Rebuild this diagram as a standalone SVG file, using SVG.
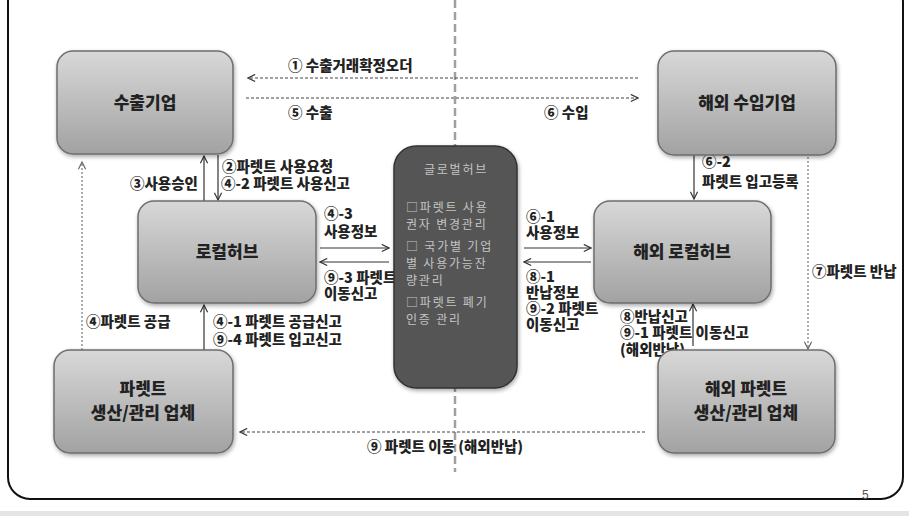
<svg xmlns="http://www.w3.org/2000/svg" width="909" height="516" viewBox="0 0 909 516">
<defs>
<linearGradient id="ng" x1="0" y1="0" x2="0" y2="1">
<stop offset="0" stop-color="#d8d8d8"/>
<stop offset="1" stop-color="#a2a2a2"/>
</linearGradient>
<filter id="sh" x="-10%" y="-10%" width="125%" height="130%">
<feGaussianBlur in="SourceAlpha" stdDeviation="2"/>
<feOffset dx="1" dy="2" result="b"/>
<feComponentTransfer><feFuncA type="linear" slope="0.35"/></feComponentTransfer>
<feMerge><feMergeNode/><feMergeNode in="SourceGraphic"/></feMerge>
</filter>
<marker id="ar" viewBox="0 0 10 10" refX="9" refY="5" markerWidth="9" markerHeight="9" markerUnits="userSpaceOnUse" orient="auto">
<path d="M1,1 L9,5 L1,9" fill="none" stroke="#333" stroke-width="1.3"/>
</marker>
<marker id="ard" viewBox="0 0 10 10" refX="9" refY="5" markerWidth="9" markerHeight="9" markerUnits="userSpaceOnUse" orient="auto">
<path d="M1,1 L9,5 L1,9" fill="none" stroke="#666" stroke-width="1.3"/>
</marker>
</defs>
<style>
.node{fill:url(#ng);stroke:#6e6e6e;stroke-width:1.5;filter:url(#sh)}
.nt{font-family:"Noto Sans CJK KR","Noto Sans",sans-serif;font-weight:900;font-size:17px;fill:#222;text-anchor:middle}
.lb{font-family:"Noto Sans CJK KR","Noto Sans",sans-serif;font-weight:900;font-size:14.5px;fill:#222}
.gt{font-family:"Noto Sans CJK KR","Noto Sans",sans-serif;font-size:12px;fill:#c4c4c4;letter-spacing:1.8px}
.sol{stroke:#333;stroke-width:1.2;fill:none;marker-end:url(#ar)}
.dsh{stroke:#444;stroke-width:1.2;fill:none;stroke-dasharray:3 2}
.dot{stroke:#777;stroke-width:1.2;fill:none;stroke-dasharray:2 2}
</style>
<rect x="0" y="0" width="909" height="516" fill="#ffffff"/>
<rect x="0" y="511" width="909" height="5" fill="#e4e4e4"/>
<rect x="8" y="-20" width="895" height="519" rx="22" fill="none" stroke="#111" stroke-width="2"/>
<line x1="455" y1="0" x2="455" y2="472" stroke="#a0a0a0" stroke-width="2.5" stroke-dasharray="8 4"/>

<g id="connectors">
<line class="dsh" x1="638" y1="78" x2="248" y2="78" marker-end="url(#ar)"/>
<line class="dsh" x1="246" y1="98" x2="638" y2="98" marker-end="url(#ar)"/>
<line class="sol" x1="204" y1="201" x2="204" y2="156"/>
<line class="sol" x1="218" y1="155" x2="218" y2="200"/>
<line class="dot" x1="82" y1="350" x2="82" y2="162" marker-end="url(#ard)"/>
<line class="sol" x1="204" y1="350" x2="204" y2="305"/>
<line class="sol" x1="320" y1="248" x2="389" y2="248"/>
<line class="sol" x1="389" y1="262" x2="320" y2="262"/>
<line class="sol" x1="524" y1="248" x2="591" y2="248"/>
<line class="sol" x1="591" y1="262" x2="524" y2="262"/>
<line class="sol" x1="694" y1="155" x2="694" y2="199"/>
<line class="dot" x1="808" y1="157" x2="808" y2="349" marker-end="url(#ard)"/>
<line class="sol" x1="693" y1="346" x2="693" y2="304"/>
<line class="dsh" x1="645" y1="432" x2="240" y2="432" marker-end="url(#ar)"/>
</g>

<g id="labels">
<text class="lb" x="288" y="71">① 수출거래확정오더</text>
<text class="lb" x="288" y="118">⑤ 수출</text>
<text class="lb" x="544" y="118">⑥ 수입</text>
<text class="lb" x="222" y="172">②파렛트 사용요청</text>
<text class="lb" x="221" y="189">④-2 파렛트 사용신고</text>
<text class="lb" x="130" y="189">③사용승인</text>
<text class="lb" x="324" y="219">④-3</text>
<text class="lb" x="324" y="237">사용정보</text>
<text class="lb" x="324" y="283">⑨-3 파렛트</text>
<text class="lb" x="324" y="299">이동신고</text>
<text class="lb" x="86" y="327">④파렛트 공급</text>
<text class="lb" x="213" y="327">④-1 파렛트 공급신고</text>
<text class="lb" x="213" y="345">⑨-4 파렛트 입고신고</text>
<text class="lb" x="526" y="222">⑥-1</text>
<text class="lb" x="526" y="238">사용정보</text>
<text class="lb" x="526" y="282">⑧-1</text>
<text class="lb" x="526" y="298">반납정보</text>
<text class="lb" x="526" y="314">⑨-2 파렛트</text>
<text class="lb" x="526" y="330">이동신고</text>
<text class="lb" x="702" y="167">⑥-2</text>
<text class="lb" x="702" y="187">파렛트 입고등록</text>
<text class="lb" x="812" y="277">⑦파렛트 반납</text>
<text class="lb" x="620" y="322">⑧반납신고</text>
<text class="lb" x="620" y="338">⑨-1 파렛트 이동신고</text>
<text class="lb" x="620" y="355">(해외반납)</text>
<text class="lb" x="367" y="452">⑨ 파렛트 이동 (해외반납)</text>
<text x="862" y="499" font-family="Liberation Sans, sans-serif" font-size="12" fill="#555">5</text>
</g>

<g id="n-export">
<rect class="node" x="57" y="51" width="176" height="103" rx="16"/>
<text class="nt" x="145" y="109">수출기업</text>
</g>
<g id="n-import">
<rect class="node" x="658" y="51" width="178" height="104" rx="16"/>
<text class="nt" x="747" y="109">해외 수입기업</text>
</g>
<g id="n-localhub">
<rect class="node" x="138" y="201" width="178" height="102" rx="16"/>
<text class="nt" x="227" y="258">로컬허브</text>
</g>
<g id="n-oslocalhub">
<rect class="node" x="594" y="201" width="177" height="102" rx="16"/>
<text class="nt" x="682" y="258">해외 로컬허브</text>
</g>
<g id="n-pallet">
<rect class="node" x="54" y="350" width="179" height="103" rx="16"/>
<text class="nt" x="143" y="395">파렛트</text>
<text class="nt" x="143" y="419">생산/관리 업체</text>
</g>
<g id="n-ospallet">
<rect class="node" x="658" y="350" width="177" height="103" rx="16"/>
<text class="nt" x="746" y="395">해외 파렛트</text>
<text class="nt" x="746" y="419">생산/관리 업체</text>
</g>
<g id="n-globalhub">
<rect x="394" y="146" width="123" height="242" rx="22" fill="#555" stroke="#333" stroke-width="1.5" filter="url(#sh)"/>
<text class="gt" x="456" y="174" text-anchor="middle" font-size="14" letter-spacing="4">글로벌허브</text>
<text class="gt" x="406" y="212">□파렛트 사용</text>
<text class="gt" x="406" y="229">권자 변경관리</text>
<text class="gt" x="406" y="251">□ 국가별 기업</text>
<text class="gt" x="406" y="268">별 사용가능잔</text>
<text class="gt" x="406" y="285">량관리</text>
<text class="gt" x="406" y="307">□파렛트 폐기</text>
<text class="gt" x="406" y="324">인증 관리</text>
</g>
</svg>
